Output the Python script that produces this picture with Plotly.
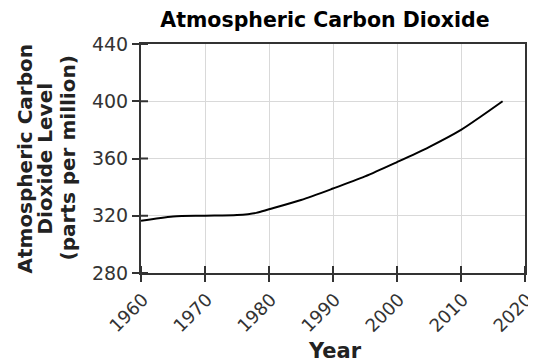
import plotly.graph_objects as go

years = [1960, 1965, 1970, 1975, 1978, 1980, 1985, 1990, 1995, 2000, 2005, 2010, 2013, 2016.5]
co2 = [316.5, 319.5, 320, 320.5, 322, 324.5, 331, 339, 347.5, 357.5, 368, 380, 389, 400]

x_ticks = [1960, 1970, 1980, 1990, 2000, 2010, 2020]
y_ticks = [280, 320, 360, 400, 440]

title_text = "Atmospheric Carbon Dioxide"
x_title = "Year"
y_title_lines = ["Atmospheric Carbon", "Dioxide Level", "(parts per million)"]

FONT = "DejaVu Sans"
AXIS_COLOR = "#333"
# the page body has an 8px margin, so the figure is sized and placed to compensate
W, H = 528, 355
L, R, T, B = 133, 11, 36, 90
PW, PH = W - L - R, H - T - B
TICK_LEN = 7

fig = go.Figure()
fig.add_trace(go.Scatter(x=years, y=co2, mode="lines",
                         line=dict(color="black", width=2, shape="spline", smoothing=0.8),
                         showlegend=False, hoverinfo="skip"))

axis_common = dict(showline=True, linecolor=AXIS_COLOR, linewidth=2, zeroline=False, automargin=False,
                   tickwidth=2, tickcolor=AXIS_COLOR, ticklen=TICK_LEN, ticks="outside", mirror=True,
                   showgrid=True, gridcolor="#d9d9d9", gridwidth=1)

fig.update_layout(
    width=W, height=H,
    margin=dict(l=L, r=R, t=T, b=B, autoexpand=False),
    paper_bgcolor="white", plot_bgcolor="white",
    font=dict(family=FONT, color="#222"),
    title=dict(text="<b>" + title_text + "</b>", x=(325 - 8) / W, xanchor="center",
               y=1 - 12 / H, yanchor="middle", font=dict(size=20.5, family=FONT, color="black")),
    xaxis=dict(range=[1960, 2020], tickvals=x_ticks, tickangle=-45, ticklabelshift=2,
               tickfont=dict(size=18, color="#333"), ticklabeloverflow="allow", **axis_common),
    yaxis=dict(range=[280, 440], tickvals=y_ticks, tickfont=dict(size=19, color="#333"), **axis_common),
)

# inner half of the crossing tick marks
for t in x_ticks:
    fig.add_shape(type="line", xref="x", x0=t, x1=t, yref="paper", ysizemode="pixel", yanchor=0,
                  y0=0, y1=TICK_LEN, line=dict(color=AXIS_COLOR, width=2), layer="above")
for v in y_ticks:
    fig.add_shape(type="line", yref="y", y0=v, y1=v, xref="paper", xsizemode="pixel", xanchor=0,
                  x0=0, x1=TICK_LEN, line=dict(color=AXIS_COLOR, width=2), layer="above")

# axis titles, placed line by line as in the reference
line_x_px = [24, 44, 67]
for txt, px in zip(y_title_lines, line_x_px):
    fig.add_annotation(text="<b>" + txt + "</b>", xref="paper", yref="paper",
                       x=(px - 8 - L) / PW, y=0.5, xanchor="center", yanchor="middle",
                       textangle=-90, showarrow=False, font=dict(size=20, family=FONT, color="#222"))
fig.add_annotation(text="<b>" + x_title + "</b>", xref="paper", yref="paper",
                   x=(334.5 - 8 - L) / PW, y=-(351 - 273) / PH, xanchor="center", yanchor="middle",
                   showarrow=False, font=dict(size=21, family=FONT, color="#222"))

fig.write_html("out.html")
